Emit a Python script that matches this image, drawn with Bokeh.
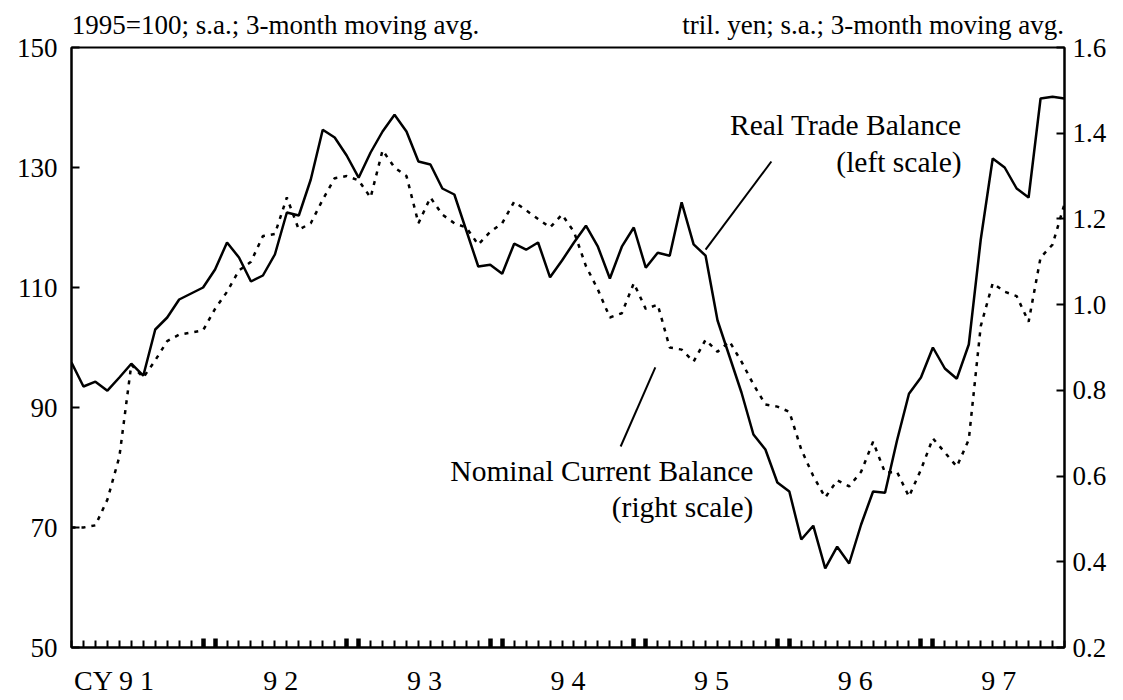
from bokeh.plotting import figure
from bokeh.models import Range1d, LinearAxis, FixedTicker, Label
from bokeh.embed import file_html
from bokeh.resources import INLINE

# Monthly index: 0 = Jan 1991 ... 83 = Dec 1997
months = list(range(84))

real_trade_balance = [
    97.5, 93.5, 94.3, 92.8, 95.0, 97.3, 95.3, 103.0, 105.0, 108.0, 109.0, 110.0,
    113.0, 117.5, 115.0, 111.0, 112.0, 115.5, 122.5, 122.0, 128.0, 136.3, 135.0, 132.0,
    128.3, 132.5, 136.0, 138.8, 136.0, 131.0, 130.5, 126.5, 125.5, 119.5, 113.5, 113.8,
    112.3, 117.3, 116.3, 117.5, 111.7, 114.5, 117.5, 120.3, 116.8, 111.5, 116.8, 120.0,
    113.3, 115.8, 115.3, 124.2, 117.2, 115.3, 104.5, 98.5, 92.5, 85.5, 83.0, 77.5,
    76.0, 68.0, 70.3, 63.2, 66.8, 64.0, 70.5, 76.0, 75.8, 84.5, 92.3, 95.0,
    100.0, 96.5, 94.8, 100.5, 118.0, 131.5, 130.0, 126.5, 125.0, 141.5, 141.8, 141.5,
]

nominal_current_balance = [
    0.48, 0.48, 0.485, 0.545, 0.645, 0.86, 0.83, 0.87, 0.915, 0.93, 0.935, 0.94,
    0.99, 1.03, 1.08, 1.10, 1.16, 1.165, 1.25, 1.175, 1.19, 1.245, 1.295, 1.30,
    1.29, 1.25, 1.36, 1.32, 1.30, 1.19, 1.25, 1.21, 1.19, 1.18, 1.14, 1.17,
    1.19, 1.24, 1.22, 1.20, 1.18, 1.21, 1.17, 1.09, 1.035, 0.97, 0.98, 1.05,
    0.99, 1.00, 0.90, 0.895, 0.867, 0.918, 0.89, 0.914, 0.867, 0.814, 0.767, 0.762,
    0.75, 0.662, 0.60, 0.55, 0.59, 0.576, 0.61, 0.68, 0.608, 0.61, 0.552, 0.615,
    0.688, 0.655, 0.622, 0.685, 0.95, 1.05, 1.03, 1.02, 0.96, 1.11, 1.14, 1.235,
]

year_labels = ["CY 9 1", "9 2", "9 3", "9 4", "9 5", "9 6", "9 7"]
year_label_pos = [3.6, 17.5, 29.5, 41.5, 53.5, 65.5, 77.5]
year_break_ticks = [11, 12, 23, 24, 35, 36, 47, 48, 59, 60, 71, 72]
left_ticks = [50, 70, 90, 110, 130, 150]
right_ticks = [0.2, 0.4, 0.6, 0.8, 1.0, 1.2, 1.4, 1.6]

unit_captions = ["1995=100; s.a.; 3-month moving avg.", "tril. yen; s.a.; 3-month moving avg."]
unit_caption_pos = [17.05, 67.0]

FONT = "Liberation Serif"

p = figure(width=1117, height=699, output_backend="svg", toolbar_location=None,
           x_range=Range1d(0, 83), y_range=Range1d(50, 150),
           min_border_left=71, min_border_right=53, min_border_top=47, min_border_bottom=52,
           x_axis_location=None, y_axis_location=None)
p.extra_y_ranges = {"right": Range1d(0.2, 1.6)}
p.grid.visible = False
p.outline_line_color = "black"
p.outline_line_width = 2
p.background_fill_color = "white"
p.border_fill_color = "white"

# left axis
ly = LinearAxis(ticker=FixedTicker(ticks=left_ticks, minor_ticks=[]))
ly.major_tick_in = 8
ly.major_tick_out = 0
ly.major_tick_line_width = 2
ly.axis_line_width = 2
ly.major_label_text_font = FONT
ly.major_label_text_font_size = "27px"
ly.major_label_text_color = "black"
ly.major_label_standoff = 14
p.add_layout(ly, "left")

# right axis
ry = LinearAxis(y_range_name="right", ticker=FixedTicker(ticks=right_ticks, minor_ticks=[]))
ry.major_tick_in = 8
ry.major_tick_out = 0
ry.major_tick_line_width = 2
ry.axis_line_width = 2
ry.major_label_text_font = FONT
ry.major_label_text_font_size = "27px"
ry.major_label_text_color = "black"
ry.major_label_standoff = 8
ry.major_label_overrides = {0.2: "0.2", 0.4: "0.4", 0.6: "0.6", 0.8: "0.8",
                            1.0: "1.0", 1.2: "1.2", 1.4: "1.4", 1.6: "1.6"}
p.add_layout(ry, "right")

# top "axis" carrying the unit captions
tx = LinearAxis(ticker=FixedTicker(ticks=unit_caption_pos, minor_ticks=[]))
tx.axis_line_color = None
tx.major_tick_line_color = None
tx.major_tick_in = 0
tx.major_tick_out = 0
tx.major_label_overrides = {pos: lab for pos, lab in zip(unit_caption_pos, unit_captions)}
tx.major_label_text_font = FONT
tx.major_label_text_font_size = "27px"
tx.major_label_text_color = "black"
tx.major_label_standoff = 8
p.add_layout(tx, "above")

# bottom axis: month ticks (thick at year breaks)
bx = LinearAxis(ticker=FixedTicker(ticks=year_break_ticks, minor_ticks=months))
bx.major_tick_in = 9
bx.major_tick_out = 0
bx.major_tick_line_width = 4.5
bx.minor_tick_in = 7
bx.minor_tick_out = 0
bx.minor_tick_line_width = 2
bx.axis_line_width = 2
bx.major_label_text_font_size = "0px"
bx.major_label_text_alpha = 0
bx.major_label_standoff = 0
p.add_layout(bx, "below")

# bottom axis: year labels
lx = LinearAxis(ticker=FixedTicker(ticks=year_label_pos, minor_ticks=[]))
lx.axis_line_color = None
lx.major_tick_line_color = None
lx.major_tick_in = 0
lx.major_tick_out = 0
lx.major_label_overrides = {pos: lab for pos, lab in zip(year_label_pos, year_labels)}
lx.major_label_text_font = FONT
lx.major_label_text_font_size = "28px"
lx.major_label_text_color = "black"
lx.major_label_standoff = 17
p.add_layout(lx, "below")

# series
p.line(months, real_trade_balance, line_color="black", line_width=2.5)
p.line(months, nominal_current_balance, y_range_name="right", line_color="black",
       line_width=2.5, line_dash="4 6")

# annotations
for txt, yv in [("Real Trade Balance", 137.1), ("(left scale)", 131.0)]:
    p.add_layout(Label(x=74.4, y=yv, text=txt, text_font=FONT, text_font_size="29.5px",
                       text_color="black", text_align="right", text_baseline="alphabetic"))
for txt, yv in [("Nominal Current Balance", 79.5), ("(right scale)", 73.4)]:
    p.add_layout(Label(x=57.0, y=yv, text=txt, text_font=FONT, text_font_size="29.5px",
                       text_color="black", text_align="right", text_baseline="alphabetic"))

p.segment(x0=[58.5, 45.9], y0=[131.0, 83.5], x1=[53.0, 48.8], y1=[116.3, 96.7],
          line_color="black", line_width=2)

open("out.html", "w").write(file_html(p, INLINE))
